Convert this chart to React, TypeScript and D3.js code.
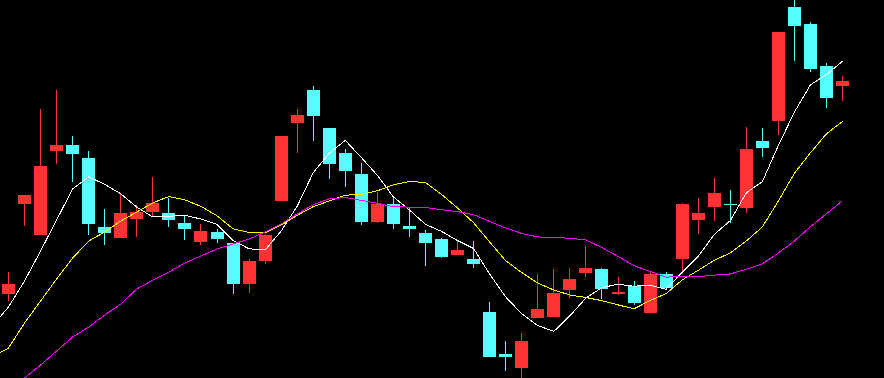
import React from 'react';
import * as d3 from 'd3';

// Daily candles (visible window)
const openP = [11.68,13.48,12.86,14.54,14.66,14.40,13.02,12.80,13.18,13.32,13.30,13.10,12.72,12.92,12.70,11.88,12.34,13.54,15.10,15.76,15.00,14.50,14.08,13.12,13.48,13.04,12.90,12.78,12.46,12.38,11.32,10.48,10.20,11.20,11.22,11.76,12.10,12.18,11.68,11.84,11.30,12.08,12.38,13.16,13.42,13.48,13.40,14.74,15.14,17.42,17.08,16.24,15.84];
const highP = [12.12,13.66,15.38,15.76,14.84,14.54,13.38,13.68,13.46,14.02,13.60,13.26,13.08,12.98,12.70,12.38,12.88,14.84,15.38,15.84,15.00,14.58,14.30,13.72,13.64,13.42,12.96,12.80,12.74,12.74,11.52,10.74,10.90,12.08,12.18,12.20,12.64,12.20,12.02,11.94,12.12,12.12,13.50,13.60,14.00,13.76,15.02,15.00,16.92,17.60,17.12,16.30,16.04];
const lowP = [11.54,13.04,12.86,14.28,13.92,12.86,12.66,12.80,12.82,13.24,13.02,12.76,12.66,12.70,11.68,11.70,12.28,13.54,14.50,14.74,13.98,13.82,13.06,13.10,12.98,12.82,12.24,12.40,12.46,12.20,10.42,10.14,9.96,11.20,11.22,11.60,12.02,11.58,11.66,11.46,11.30,11.76,12.08,12.88,13.14,13.10,13.30,14.42,14.86,16.34,16.12,15.40,15.54];
const closeP = [11.88,13.66,14.24,14.66,14.48,13.08,12.90,13.30,13.32,13.50,13.16,12.98,12.94,12.78,11.88,12.34,12.86,14.84,15.26,15.24,14.28,14.14,13.12,13.48,13.08,12.98,12.70,12.42,12.56,12.28,10.42,10.42,10.74,11.38,11.70,11.98,12.20,11.78,11.72,11.50,12.08,11.80,13.48,13.30,13.70,13.46,14.58,14.60,16.92,17.04,16.18,15.60,15.94];

// Moving-average values before the window is full (index -1 onward)
const ma5Lead = [11.04, 11.42, 11.94, 12.54, 13.16];
const ma10Lead = [10.42, 10.60, 11.10, 11.54, 11.98, 12.40, 12.74, 12.92, 13.14, 13.32];
const ma20Lead = [9.48, 9.74, 10.00, 10.26, 10.54, 10.82, 11.02, 11.26, 11.48, 11.78, 11.96, 12.12, 12.30, 12.44, 12.58, 12.68, 12.78, 12.92, 13.08, 13.28];

const W = 884;
const H = 378;
const UP = '#ff3333';
const DOWN = '#54ffff';

function movingAverage(n: number, lead: number[]): [number, number][] {
  const pts: [number, number][] = lead.map((v, k) => [k - 1, v]);
  for (let i = n - 1; i < closeP.length; i++) {
    let s = 0;
    for (let j = i - n + 1; j <= i; j++) s += closeP[j];
    pts.push([i, s / n]);
  }
  return pts;
}

export default function App() {
  const n = closeP.length;
  const x = d3.scaleLinear().domain([0, n - 1]).range([8.5, 842.58]);
  const y = d3.scaleLinear().domain([10, 17.56]).range([H, 0]);
  const line = d3.line<[number, number]>().x(d => x(d[0])).y(d => y(d[1]));

  const mas = [
    { pts: movingAverage(5, ma5Lead), color: '#ffffff' },
    { pts: movingAverage(10, ma10Lead), color: '#ffff00' },
    { pts: movingAverage(20, ma20Lead), color: '#ff00ff' },
  ];

  return (
    <svg width={W} height={H} style={{ position: 'fixed', left: 0, top: 0, display: 'block', background: '#000' }}>
      <rect x={0} y={0} width={W} height={H} fill="#000" />
      <g shapeRendering="crispEdges">
        {closeP.map((c, i) => {
          const o = openP[i];
          const up = c >= o;
          const col = up ? UP : DOWN;
          const xc = x(i);
          const bx = Math.round(xc - 6.5);
          const wx = Math.round(xc - 0.5);
          const top = Math.round(y(Math.max(o, c)));
          const bot = Math.round(y(Math.min(o, c)));
          const hy = Math.round(y(highP[i]));
          const ly = Math.round(y(lowP[i]));
          return (
            <g key={i}>
              <rect x={wx} y={hy} width={1} height={Math.max(1, ly - hy)} fill={col} />
              <rect x={bx} y={top} width={13} height={Math.max(1, bot - top)} fill={col} />
            </g>
          );
        })}
      </g>
      <g fill="none" strokeWidth={1} shapeRendering="crispEdges">
        {mas.map((m, k) => (
          <path key={k} d={line(m.pts) || ''} stroke={m.color} />
        ))}
      </g>
    </svg>
  );
}
